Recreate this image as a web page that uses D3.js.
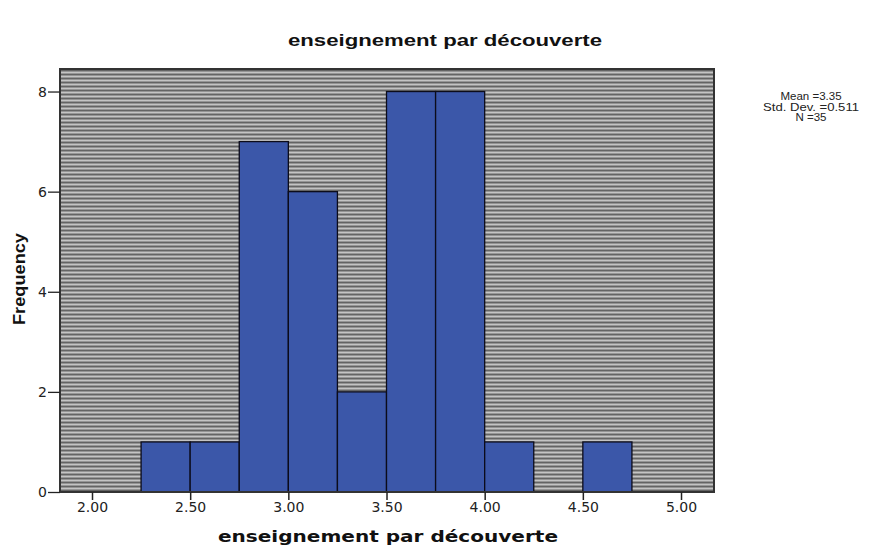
<!DOCTYPE html>
<html><head><meta charset="utf-8">
<script src="https://cdn.jsdelivr.net/npm/d3@7"></script>
<style>body{margin:0;background:#fff}</style>
</head><body>
<script>
const binStarts = [2.25, 2.50, 2.75, 3.00, 3.25, 3.50, 3.75, 4.00, 4.25, 4.50];
const binWidth = 0.25;
const frequencies = [1, 1, 7, 6, 2, 8, 8, 1, 0, 1];
const xTicks = [2.00, 2.50, 3.00, 3.50, 4.00, 4.50, 5.00];
const yTicks = [0, 2, 4, 6, 8];
const statsLines = ["Mean =3.35", "Std. Dev. =0.511", "N =35"];
const title = "enseignement par découverte";
const xLabel = "enseignement par découverte";
const yLabel = "Frequency";

const W = 890, H = 546;
const svg = d3.select("body").append("svg").attr("width", W).attr("height", H);
const L = 60, R = 714, T = 69, B = 492;
const x = d3.scaleLinear().domain([1.837, 5.168]).range([L, R]);
const y = d3.scaleLinear().domain([0, 8.45]).range([B, T]);

const defs = svg.append("defs");
const pat = defs.append("pattern").attr("id", "stripes").attr("patternUnits", "userSpaceOnUse")
  .attr("width", 8).attr("height", 4).attr("y", T);
pat.append("rect").attr("width", 8).attr("height", 4).attr("fill", "#c4c4c4");
pat.append("rect").attr("y", 0).attr("width", 8).attr("height", 1).attr("fill", "#969696");
pat.append("rect").attr("y", 1).attr("width", 8).attr("height", 1.5).attr("fill", "#646464");

svg.append("rect").attr("x", L).attr("y", T).attr("width", R - L).attr("height", B - T)
  .attr("fill", "url(#stripes)");

svg.append("g").selectAll("rect").data(binStarts).join("rect")
  .attr("x", (d) => x(d))
  .attr("y", (d, i) => y(frequencies[i]))
  .attr("width", (d) => x(d + binWidth) - x(d))
  .attr("height", (d, i) => y(0) - y(frequencies[i]))
  .attr("fill", "#3b57a9").attr("stroke", "#0c0c1a").attr("stroke-width", 1.3)
  .attr("display", (d, i) => frequencies[i] > 0 ? null : "none");

svg.append("rect").attr("x", L).attr("y", T).attr("width", R - L).attr("height", B - T)
  .attr("fill", "none").attr("stroke", "#333").attr("stroke-width", 2);

const xAxis = svg.append("g").attr("transform", `translate(0,${B})`)
  .call(d3.axisBottom(x).tickValues(xTicks).tickFormat(d3.format(".2f")).tickSize(8).tickSizeOuter(0).tickPadding(2));
xAxis.select(".domain").remove();
xAxis.selectAll("line").attr("stroke", "#222").attr("stroke-width", 1.5);
xAxis.selectAll("text").attr("font-family", "DejaVu Sans, sans-serif").attr("font-size", 14).attr("fill", "#222");

const yAxis = svg.append("g").attr("transform", `translate(${L},0)`)
  .call(d3.axisLeft(y).tickValues(yTicks).tickSize(12).tickSizeOuter(0).tickPadding(1));
yAxis.select(".domain").remove();
yAxis.selectAll("line").attr("stroke", "#222").attr("stroke-width", 1.3);
yAxis.selectAll("text").attr("font-family", "DejaVu Sans, sans-serif").attr("font-size", 14).attr("fill", "#222");

svg.append("text").attr("x", 288).attr("y", 46)
  .attr("font-family", "Liberation Sans, Arial, sans-serif").attr("font-weight", "bold")
  .attr("font-size", 17).attr("fill", "#111")
  .attr("textLength", 314).attr("lengthAdjust", "spacingAndGlyphs").text(title);

svg.append("text").attr("x", 218).attr("y", 542)
  .attr("font-family", "DejaVu Sans, sans-serif").attr("font-weight", "bold")
  .attr("font-size", 15).attr("fill", "#111")
  .attr("textLength", 340).attr("lengthAdjust", "spacingAndGlyphs").text(xLabel);

svg.append("text").attr("transform", "translate(25,325) rotate(-90)")
  .attr("font-family", "Liberation Sans, Arial, sans-serif").attr("font-weight", "bold")
  .attr("font-size", 17).attr("fill", "#111")
  .attr("textLength", 92).attr("lengthAdjust", "spacingAndGlyphs").text(yLabel);

svg.append("g").selectAll("text").data(statsLines).join("text")
  .attr("x", 811).attr("y", (d, i) => 100 + i * 10.5).attr("text-anchor", "middle")
  .attr("font-family", "Liberation Sans, Arial, sans-serif").attr("font-size", 11.5).attr("fill", "#222")
  .attr("textLength", (d, i) => i === 1 ? 96 : null).attr("lengthAdjust", "spacingAndGlyphs")
  .text((d) => d);
</script>
</body></html>
